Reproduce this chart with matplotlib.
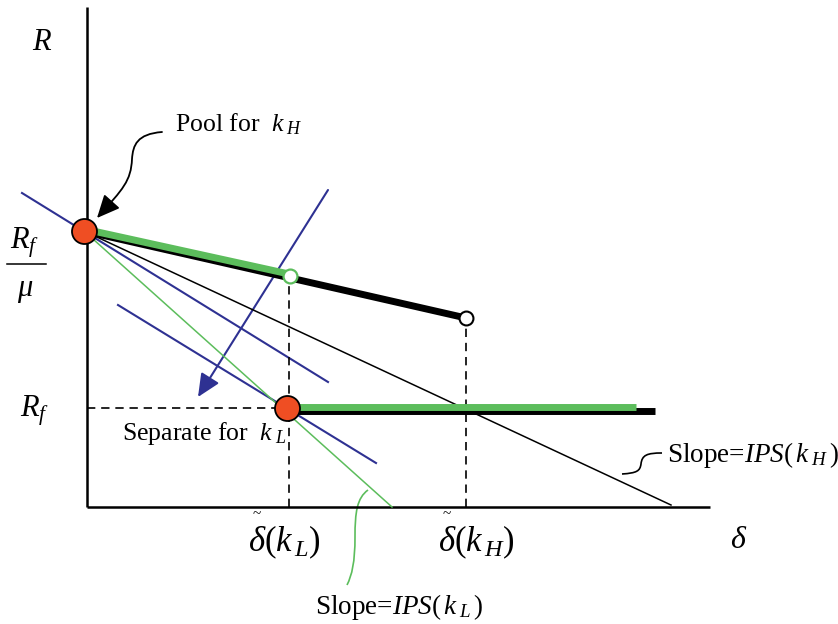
import matplotlib
matplotlib.use('Agg')
import matplotlib.pyplot as plt
from matplotlib.patches import FancyArrowPatch, PathPatch
from matplotlib.path import Path

plt.rcParams['font.family'] = ['Liberation Serif', 'DejaVu Serif']
plt.rcParams['mathtext.fontset'] = 'custom'
plt.rcParams['mathtext.rm'] = 'Liberation Serif'
plt.rcParams['mathtext.it'] = 'Liberation Serif:italic'

# diagram values: delta on x, R on y (drawing units)
axis_len_x = 623
axis_len_y = 500
rf_mu = 276          # R_f / mu
rf = 99              # R_f
delta_kl = 202       # delta~(k_L)
delta_kh = 379       # delta~(k_H)
pool_x = -3
sep_x = 200
r_at_kl = 231        # return at delta~(k_L) on the pooling line
r_at_kh = 189        # return at delta~(k_H)
green_end = 549
black_end = 568

# iso-profit lines
ips_h_x = [-3, 584]
ips_h_y = [276, 2]
ips_l_x = [-3, 305]
ips_l_y = [276, 0]
blue1_x = [-65, 241]
blue1_y = [314, 125]
blue2_x = [31, 289]
blue2_y = [202, 44]
move_from = (241, 317)
move_to = (111, 110)

orange = '#ef4e23'
green = '#5cbd5c'
blue = '#2e3192'

fig = plt.figure(figsize=(8.38, 6.24), dpi=100)
ax = fig.add_axes([0, 0, 1, 1])
ax.set_xlim(-87, 751)
ax.set_ylim(-117, 507)
ax.axis('off')

# axes
ax.plot([0, 0], [0, axis_len_y], color='black', lw=1.8, solid_capstyle='butt')
ax.plot([0, axis_len_x], [0, 0], color='black', lw=1.8, solid_capstyle='butt')

# blue lines
ax.plot(blue1_x, blue1_y, color=blue, lw=1.5)
ax.plot(blue2_x, blue2_y, color=blue, lw=1.5)
ax.add_patch(FancyArrowPatch(move_from, move_to, arrowstyle='-|>,head_length=0.7,head_width=0.32',
                             mutation_scale=20, color=blue, lw=1.5, shrinkA=0, shrinkB=0))

# slope lines
ax.plot(ips_h_x, ips_h_y, color='black', lw=1.1)
ax.plot(ips_l_x, ips_l_y, color=green, lw=1.1)

# dashed guides
ax.plot([delta_kl, delta_kl], [0, r_at_kl - 7], color='black', lw=1.2, ls=(0, (5, 3.5)))
ax.plot([delta_kh, delta_kh], [0, r_at_kh - 7], color='black', lw=1.2, ls=(0, (5, 3.5)))
ax.plot([0, sep_x - 12], [rf, rf], color='black', lw=1.2, ls=(0, (5, 3.5)))

# thick segments
ax.plot([pool_x, delta_kh], [rf_mu, r_at_kh], color='black', lw=5, solid_capstyle='butt')
ax.plot([pool_x, delta_kl], [rf_mu + 2, r_at_kl + 2], color=green, lw=5, solid_capstyle='butt')
ax.plot([sep_x, black_end], [rf - 2.5, rf - 2.5], color='black', lw=5, solid_capstyle='butt')
ax.plot([sep_x, green_end], [rf + 1, rf + 1], color=green, lw=5, solid_capstyle='butt')

# points
ax.plot([pool_x], [rf_mu], 'o', ms=18, mfc=orange, mec='black', mew=1.3)
ax.plot([sep_x], [rf], 'o', ms=18, mfc=orange, mec='black', mew=1.3)
ax.plot([delta_kl + 1], [r_at_kl], 'o', ms=10, mfc='white', mec=green, mew=1.6)
ax.plot([delta_kh], [r_at_kh], 'o', ms=10, mfc='white', mec='black', mew=1.5)

# curved arrow to pooling point
pool_path = Path([(75, 375), (50, 373), (46, 362), (45, 348), (44, 326), (36, 318), (10, 289)],
                 [Path.MOVETO, Path.CURVE4, Path.CURVE4, Path.CURVE4, Path.CURVE4, Path.CURVE4, Path.CURVE4])
ax.add_patch(FancyArrowPatch(path=pool_path, arrowstyle='-|>,head_length=0.7,head_width=0.32',
                             mutation_scale=20, color='black', lw=1.3))

# connectors for slope labels
green_path = Path([(281, 17), (270, 9), (268, -5), (268, -30), (268, -55), (265, -68), (260, -78)],
                  [Path.MOVETO, Path.CURVE4, Path.CURVE4, Path.CURVE4, Path.CURVE4, Path.CURVE4, Path.CURVE4])
ax.add_patch(PathPatch(green_path, fill=False, edgecolor=green, lw=1.2))
black_path = Path([(535, 33), (550, 34), (553, 36), (554, 43), (555, 52), (560, 54), (575, 54)],
                  [Path.MOVETO, Path.CURVE4, Path.CURVE4, Path.CURVE4, Path.CURVE4, Path.CURVE4, Path.CURVE4])
ax.add_patch(PathPatch(black_path, fill=False, edgecolor='black', lw=1.2))

# labels
ax.text(-55, 457, '$R$', fontsize=22, ha='left', va='baseline')
ax.text(-77, 259, '$R_f$', fontsize=22, ha='left', va='baseline')
ax.plot([-80, -41], [243, 243], color='black', lw=1.1)
ax.text(-70, 211, r'$\mu$', fontsize=22, ha='left', va='baseline')
ax.text(-67, 90, '$R_f$', fontsize=22, ha='left', va='baseline')
ax.text(88, 376, r'Pool for  $k_{\;H}$', fontsize=18.5, ha='left', va='baseline')
ax.text(35, 67, r'Separate for  $k_{\;L}$', fontsize=18.5, ha='left', va='baseline')
ax.text(161, -44, r'$\delta(k_{\,L})$', fontsize=25, ha='left', va='baseline')
ax.text(166, -11, '~', fontsize=11, ha='left', va='baseline')
ax.text(351, -44, r'$\delta(k_{\,H})$', fontsize=25, ha='left', va='baseline')
ax.text(356, -11, '~', fontsize=11, ha='left', va='baseline')
ax.text(643, -41, r'$\delta$', fontsize=23, ha='left', va='baseline')
ax.text(580, 45, r'Slope=$IPS(\,k_{\;H}\,)$', fontsize=19.5, ha='left', va='baseline')
ax.text(228, -107, r'Slope=$IPS(\,k_{\;L}\,)$', fontsize=19.5, ha='left', va='baseline')

fig.savefig('out.png', dpi=100)
